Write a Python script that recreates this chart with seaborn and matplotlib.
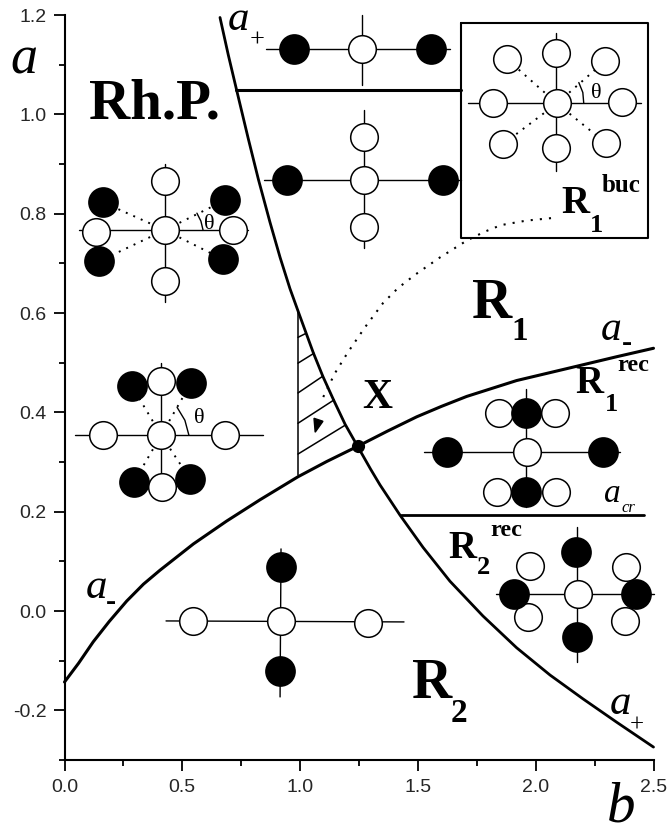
import matplotlib
matplotlib.use("Agg")
import matplotlib.pyplot as plt
from matplotlib.ticker import MultipleLocator, FormatStrFormatter
import seaborn as sns

# phase boundaries
a_plus_b = [0.66, 0.695, 0.731, 0.78, 0.823, 0.872, 0.915, 0.957, 0.992, 1.056, 1.097, 1.144, 1.191, 1.246,
            1.30, 1.339, 1.424, 1.522, 1.636, 1.776, 1.919, 2.061, 2.201, 2.344, 2.5]
a_plus_a = [1.195, 1.120, 1.048, 0.951, 0.869, 0.783, 0.712, 0.649, 0.603, 0.520, 0.472, 0.423, 0.376, 0.330,
            0.285, 0.254, 0.193, 0.128, 0.060, -0.010, -0.074, -0.129, -0.177, -0.224, -0.274]
a_minus_b = [0.0, 0.06, 0.122, 0.19, 0.264, 0.335, 0.405, 0.547, 0.688, 0.83, 0.99, 1.113, 1.246, 1.37,
             1.495, 1.6, 1.707, 1.919, 2.132, 2.344, 2.5]
a_minus_a = [-0.143, -0.105, -0.062, -0.021, 0.020, 0.054, 0.082, 0.135, 0.181, 0.224, 0.270, 0.301, 0.332, 0.362,
             0.391, 0.412, 0.432, 0.464, 0.488, 0.512, 0.529]
node_b = [1.246]
node_a = [0.332]

upper_line_b = [0.728, 1.683]
upper_line_a = [1.05, 1.05]
acr_line_b = [1.43, 2.46]
acr_line_a = [0.194, 0.194]

box_b = [1.683, 2.477, 2.477, 1.683, 1.683]
box_a = [1.184, 1.184, 0.751, 0.751, 1.184]

# hatched X region
hatch_edge_b = [0.991, 0.991]
hatch_edge_a = [0.606, 0.274]
hatch_b = [(0.991, 1.025), (0.991, 1.059), (0.991, 1.097), (0.991, 1.144), (0.991, 1.191)]
hatch_a = [(0.551, 0.559), (0.499, 0.519), (0.439, 0.473), (0.378, 0.425), (0.316, 0.374)]

pointer_b = [2.065, 1.96, 1.853, 1.78, 1.708, 1.594, 1.488, 1.415, 1.352, 1.275, 1.203, 1.148, 1.085]
pointer_a = [0.791, 0.786, 0.777, 0.763, 0.746, 0.712, 0.677, 0.650, 0.620, 0.571, 0.521, 0.479, 0.418]
arrow_b = [1.059, 1.097, 1.064]
arrow_a = [0.388, 0.382, 0.360]

# lattice sketches: (centre), open sites, filled sites, axis line ends
top_open = ([1.263], [1.131])
top_fill = ([0.974, 1.556], [1.131, 1.131])
top_h = ([0.855, 1.636], [1.131, 1.131])
top_v = ([1.263, 1.263], [1.201, 1.060])

mid_open = ([1.271, 1.271, 1.271], [0.867, 0.954, 0.773])
mid_fill = ([0.944, 1.607], [0.867, 0.867])
mid_h = ([0.847, 1.683], [0.867, 0.867])
mid_v = ([1.271, 1.271], [1.008, 0.730])

buc_centre = (2.090, 1.022)
buc_open = ([2.090, 2.086, 2.086, 1.819, 2.366], [1.022, 1.123, 0.932, 1.022, 1.024])
buc_diag = ([1.878, 2.294, 1.861, 2.298], [1.111, 1.107, 0.940, 0.942])
buc_h = ([1.713, 2.447], [1.022, 1.022])
buc_v = ([2.086, 2.086], [1.163, 0.885])
buc_arc = ([2.183, 2.200, 2.204], [1.064, 1.044, 1.022])

rh_centre = (0.426, 0.767)
rh_open = ([0.426, 0.426, 0.426, 0.134, 0.715], [0.767, 0.865, 0.664, 0.763, 0.767])
rh_fill = ([0.163, 0.681, 0.146, 0.673], [0.823, 0.827, 0.704, 0.708])
rh_h = ([0.062, 0.779], [0.767, 0.767])
rh_v = ([0.426, 0.426], [0.901, 0.622])
rh_arc = ([0.562, 0.579, 0.588], [0.801, 0.785, 0.767])

rot_centre = (0.410, 0.354)
rot_open = ([0.410, 0.410, 0.414, 0.163, 0.681], [0.354, 0.463, 0.249, 0.354, 0.354])
rot_fill = ([0.286, 0.537, 0.295, 0.533], [0.453, 0.459, 0.260, 0.266])
rot_h = ([0.045, 0.843], [0.354, 0.354])
rot_v = ([0.410, 0.410], [0.499, 0.223])
rot_arc = ([0.478, 0.511, 0.528], [0.410, 0.384, 0.354])

r2_open = ([0.919, 0.545, 1.288], [-0.020, -0.020, -0.024])
r2_fill = ([0.919, 0.915], [0.089, -0.121])
r2_h = ([0.431, 1.441], [-0.020, -0.022])
r2_v = ([0.919, 0.915], [0.125, -0.173])

r1rec_open = ([1.963, 1.845, 2.082, 1.836, 2.086], [0.320, 0.398, 0.398, 0.239, 0.239])
r1rec_fill = ([1.623, 2.286, 1.959, 1.959], [0.320, 0.320, 0.398, 0.239])
r1rec_h = ([1.526, 2.358], [0.320, 0.320])
r1rec_v = ([1.959, 1.959], [0.447, 0.209])

r2rec_open = ([2.180, 1.976, 2.383, 1.967, 2.379], [0.034, 0.091, 0.089, -0.012, -0.020])
r2rec_fill = ([2.171, 2.175, 1.908, 2.426], [0.119, -0.052, 0.034, 0.034])
r2rec_h = ([1.831, 2.502], [0.034, 0.034])
r2rec_v = ([2.175, 2.175], [0.169, -0.103])

x_major = [0.0, 0.5, 1.0, 1.5, 2.0, 2.5]
y_major = [-0.2, 0.0, 0.2, 0.4, 0.6, 0.8, 1.0, 1.2]

sns.set_theme(style="ticks")
plt.rcParams['font.family'] = ['Liberation Sans', 'DejaVu Sans']
plt.rcParams['axes.unicode_minus'] = False

fig = plt.figure(figsize=(6.68, 8.27), dpi=100)
ax = fig.add_axes([64.5 / 668, 1 - 760 / 827, 589 / 668, 745 / 827])


def line(x, y, lw=1.0, ls='-', color='black', z=2):
    sns.lineplot(x=list(x), y=list(y), sort=False, estimator=None, color=color,
                 linewidth=lw, linestyle=ls, ax=ax, zorder=z, clip_on=False,
                 legend=False)


def sites(pts, filled):
    if filled:
        sns.scatterplot(x=pts[0], y=pts[1], s=490, color='black', edgecolor='black',
                        linewidth=0, ax=ax, zorder=3, clip_on=False, legend=False)
    else:
        sns.scatterplot(x=pts[0], y=pts[1], s=395, color='white', edgecolor='black',
                        linewidth=1.1, ax=ax, zorder=3, clip_on=False, legend=False)


def spokes(centre, pts):
    for bx, ay in zip(pts[0], pts[1]):
        line([centre[0], bx], [centre[1], ay], lw=1.4, ls=(0, (1, 3.2)))


def serif(bx, ay, txt, size, bold=False, italic=False):
    ax.text(bx, ay, txt, fontsize=size, family='Liberation Serif', va='baseline', ha='left',
            fontweight='bold' if bold else 'normal', style='italic' if italic else 'normal',
            zorder=5, color='black')


# boundaries
line(a_plus_b, a_plus_a, lw=2.0)
line(a_minus_b, a_minus_a, lw=2.2)
line(upper_line_b, upper_line_a, lw=2.2)
line(acr_line_b, acr_line_a, lw=2.0)
line(box_b, box_a, lw=1.5)
sns.scatterplot(x=node_b, y=node_a, s=90, color='black', linewidth=0, ax=ax, zorder=4, legend=False)

# hatched region and pointer
line(hatch_edge_b, hatch_edge_a, lw=1.1)
for hb, ha_ in zip(hatch_b, hatch_a):
    line(hb, ha_, lw=1.1)
line(pointer_b, pointer_a, lw=1.5, ls=(0, (1, 3.4)))
ax.fill(arrow_b, arrow_a, color='black', zorder=3)

# lattice sketches
for h, v in [(top_h, top_v), (mid_h, mid_v), (buc_h, buc_v), (rh_h, rh_v), (rot_h, rot_v),
             (r2_h, r2_v), (r1rec_h, r1rec_v), (r2rec_h, r2rec_v)]:
    line(h[0], h[1])
    line(v[0], v[1])

spokes(buc_centre, buc_diag)
spokes(rh_centre, rh_fill)
spokes(rot_centre, rot_fill)
line(buc_arc[0], buc_arc[1], lw=1.0)
line(rh_arc[0], rh_arc[1], lw=1.0)
line(rot_arc[0], rot_arc[1], lw=1.0)

sites(top_fill, True)
sites(top_open, False)
sites(mid_fill, True)
sites(mid_open, False)
sites(buc_open, False)
sites(buc_diag, False)
sites(rh_fill, True)
sites(rh_open, False)
sites(rot_fill, True)
sites(rot_open, False)
sites(r2_fill, True)
sites(r2_open, False)
sites(r1rec_open, False)
sites(r1rec_fill, True)
sites(r2rec_open, False)
sites(r2rec_fill, True)

# region labels
serif(0.104, 0.992, 'Rh.P.', 41, bold=True)
serif(1.730, 0.590, 'R', 40, bold=True)
serif(1.895, 0.545, '1', 24, bold=True)
serif(1.475, -0.175, 'R', 40, bold=True)
serif(1.640, -0.223, '2', 24, bold=True)
serif(1.263, 0.408, 'X', 30, bold=True)
serif(2.107, 0.801, 'R', 28, bold=True)
serif(2.230, 0.763, '1', 19, bold=True)
serif(2.281, 0.843, 'buc', 18, bold=True)
serif(2.167, 0.439, 'R', 28, bold=True)
serif(2.294, 0.402, '1', 19, bold=True)
serif(2.345, 0.483, 'rec', 17.5, bold=True)
serif(1.628, 0.107, 'R', 28, bold=True)
serif(1.751, 0.074, '2', 19, bold=True)
serif(1.806, 0.151, 'rec', 17.5, bold=True)

# curve and axis names
serif(-0.231, 1.082, 'a', 39, italic=True)
serif(2.303, -0.423, 'b', 41, italic=True)
serif(0.694, 1.169, 'a', 31, italic=True)
serif(0.785, 1.136, '+', 19)
serif(2.277, 0.545, 'a', 30, italic=True)
serif(2.366, 0.523, '-', 22, bold=True)
serif(0.091, 0.026, 'a', 31, italic=True)
serif(0.176, 0.002, '-', 22, bold=True)
serif(2.315, -0.207, 'a', 31, italic=True)
serif(2.398, -0.243, '+', 18)
serif(2.290, 0.219, 'a', 24, italic=True)
serif(2.362, 0.199, 'cr', 12, italic=True)
serif(2.235, 1.032, 'θ', 16)
serif(0.592, 0.769, 'θ', 16)
serif(0.550, 0.378, 'θ', 16)

ax.set_xlim(0, 2.5)
ax.set_ylim(-0.3, 1.2)
ax.set_xlabel('')
ax.set_ylabel('')
ax.set_xticks(x_major)
ax.set_yticks(y_major)
ax.xaxis.set_minor_locator(MultipleLocator(0.25))
ax.yaxis.set_minor_locator(MultipleLocator(0.1))
ax.xaxis.set_major_formatter(FormatStrFormatter('%.1f'))
ax.yaxis.set_major_formatter(FormatStrFormatter('%.1f'))
ax.tick_params(which='major', length=8, width=1.3, labelsize=14, color='black')
ax.tick_params(axis='x', which='major', pad=6)
ax.tick_params(axis='y', which='major', pad=5)
ax.tick_params(which='minor', length=4.5, width=1.3, color='black')
sns.despine(ax=ax)
for side in ['left', 'bottom']:
    ax.spines[side].set_linewidth(1.5)
    ax.spines[side].set_color('black')
ax.patch.set_alpha(0)

fig.savefig('out.png', dpi=100)
